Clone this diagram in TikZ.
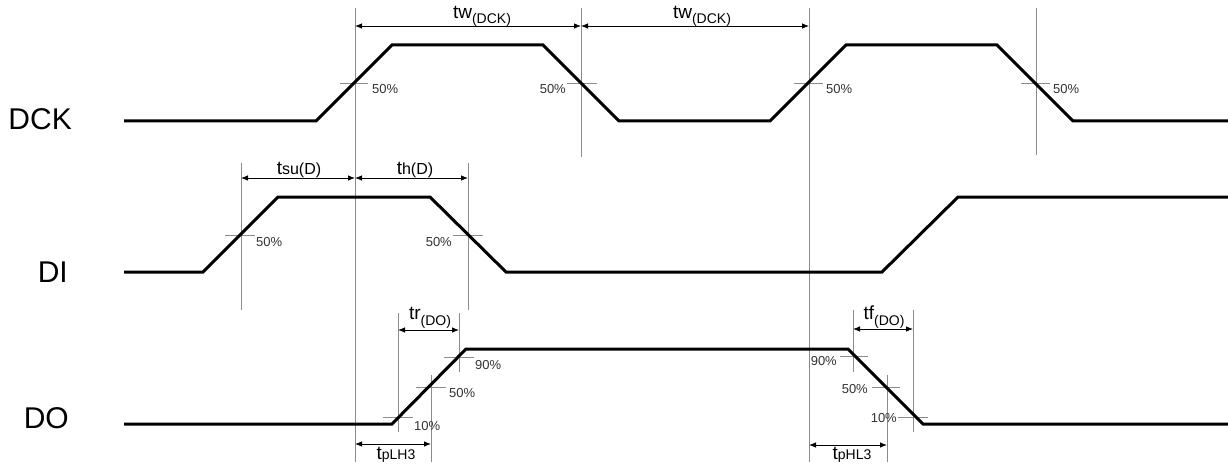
\documentclass[tikz,border=0pt]{standalone}
\usepackage{fontspec}
\setmainfont{Liberation Sans}
\usetikzlibrary{arrows.meta}
\begin{document}
\begin{tikzpicture}[x=1pt,y=-1pt,
  wave/.style={line width=3pt, line join=miter},
  guide/.style={draw=black!45, line width=0.9pt},
  dim/.style={line width=0.8pt, {Latex[length=7pt,width=5.5pt]}-{Latex[length=7pt,width=5.5pt]}},
  pct/.style={font=\fontsize{13}{13}\selectfont, text=black!80, inner sep=0pt},
  sig/.style={font=\fontsize{30}{30}\selectfont, inner sep=0pt, anchor=east},
  lbl/.style={inner sep=0pt, anchor=base}]
\useasboundingbox (0,0) rectangle (1228,468);
\fill[white] (0,0) rectangle (1228,468);

% ---------- guide lines ----------
\draw[guide] (355,8) -- (355,462);
\draw[guide] (581,8) -- (581,157);
\draw[guide] (809,8) -- (809,462);
\draw[guide] (1036,8) -- (1036,155);
\draw[guide] (241,163) -- (241,310);
\draw[guide] (468,163) -- (468,310);
\draw[guide] (398,313) -- (398,432);
\draw[guide] (459,313) -- (459,372);
\draw[guide] (431,375) -- (431,462);
\draw[guide] (853,310) -- (853,372);
\draw[guide] (913,310) -- (913,432);
\draw[guide] (887,375) -- (887,462);

% ---------- level ticks ----------
\draw[guide] (340,83) -- (368,83);
\draw[guide] (567,83) -- (597,83);
\draw[guide] (794,83) -- (823,83);
\draw[guide] (1021,83) -- (1050,83);
\draw[guide] (225,235) -- (255,235);
\draw[guide] (453,235) -- (483,235);
\draw[guide] (444,357) -- (474,357);
\draw[guide] (416,387) -- (446,387);
\draw[guide] (383,417) -- (413,417);
\draw[guide] (840,356) -- (868,356);
\draw[guide] (872,387) -- (900,387);
\draw[guide] (898,417) -- (928,417);

% ---------- waveforms ----------
\draw[wave] (124,121) -- (316,121) -- (392,45) -- (543,45) -- (619,121)
  -- (770,121) -- (846,45) -- (997,45) -- (1073,121) -- (1228,121);
\draw[wave] (124,272) -- (203,272) -- (278,197) -- (430,197) -- (506,272)
  -- (882,272) -- (958,197) -- (1228,197);
\draw[wave] (124,424) -- (392,424) -- (466,349) -- (848,349) -- (923,424)
  -- (1228,424);

% ---------- signal names ----------
\node[sig] (dck) at (72,119) {DCK};
\node[sig] (di) at (68,272) {DI};
\node[sig] (do) at (69,418) {DO};

% ---------- dimension arrows ----------
\coordinate (tw1a) at (355,26); \coordinate (tw1b) at (581,26);
\coordinate (tw2a) at (581,26); \coordinate (tw2b) at (809,26);
\coordinate (tsua) at (241,178); \coordinate (tsub) at (355,178);
\coordinate (tha) at (355,178); \coordinate (thb) at (468,178);
\coordinate (tra) at (398,330); \coordinate (trb) at (459,330);
\coordinate (tfa) at (853,329); \coordinate (tfb) at (913,329);
\coordinate (plha) at (355,444); \coordinate (plhb) at (431,444);
\coordinate (phla) at (809,445); \coordinate (phlb) at (887,445);
\draw[dim] (tw1a) -- (tw1b);
\draw[dim] (tw2a) -- (tw2b);
\draw[dim] (tsua) -- (tsub);
\draw[dim] (tha) -- (thb);
\draw[dim] (tra) -- (trb);
\draw[dim] (tfa) -- (tfb);
\draw[dim] (plha) -- (plhb);
\draw[dim] (phla) -- (phlb);

% ---------- timing labels ----------
\node[lbl] (ltw1) at (482,19) {\fontsize{19}{19}\selectfont tw\raisebox{-5pt}{\fontsize{14}{14}\selectfont (DCK)}};
\node[lbl] (ltw2) at (702,19) {\fontsize{19}{19}\selectfont tw\raisebox{-5pt}{\fontsize{14}{14}\selectfont (DCK)}};
\node[lbl] (ltsu) at (299,174) {\fontsize{19}{19}\selectfont t\fontsize{16}{16}\selectfont su(D)};
\node[lbl] (lth) at (415,174) {\fontsize{19}{19}\selectfont t\fontsize{16}{16}\selectfont h(D)};
\node[lbl] (ltr) at (430,319) {\fontsize{19}{19}\selectfont tr\raisebox{-6pt}{\fontsize{14}{14}\selectfont (DO)}};
\node[lbl] (ltf) at (884,319) {\fontsize{19}{19}\selectfont tf\raisebox{-6pt}{\fontsize{14}{14}\selectfont (DO)}};
\node[lbl] (lplh) at (396,459) {\fontsize{19}{19}\selectfont t\fontsize{14}{14}\selectfont pLH3};
\node[lbl] (lphl) at (852,459) {\fontsize{19}{19}\selectfont t\fontsize{14}{14}\selectfont pHL3};

% ---------- percentage labels ----------
\node[pct, anchor=west] (p1) at (372,89) {50\%};
\node[pct, anchor=east] (p2) at (566,89) {50\%};
\node[pct, anchor=west] (p3) at (826,89) {50\%};
\node[pct, anchor=west] (p4) at (1053,89) {50\%};
\node[pct, anchor=west] (p5) at (256,242) {50\%};
\node[pct, anchor=east] (p6) at (452,242) {50\%};
\node[pct, anchor=west] (p7) at (475,365) {90\%};
\node[pct, anchor=west] (p8) at (449,393) {50\%};
\node[pct, anchor=west] (p9) at (414,426) {10\%};
\node[pct, anchor=east] (p10) at (837,361) {90\%};
\node[pct, anchor=east] (p11) at (868,389) {50\%};
\node[pct, anchor=east] (p12) at (897,418) {10\%};
\end{tikzpicture}
\end{document}
